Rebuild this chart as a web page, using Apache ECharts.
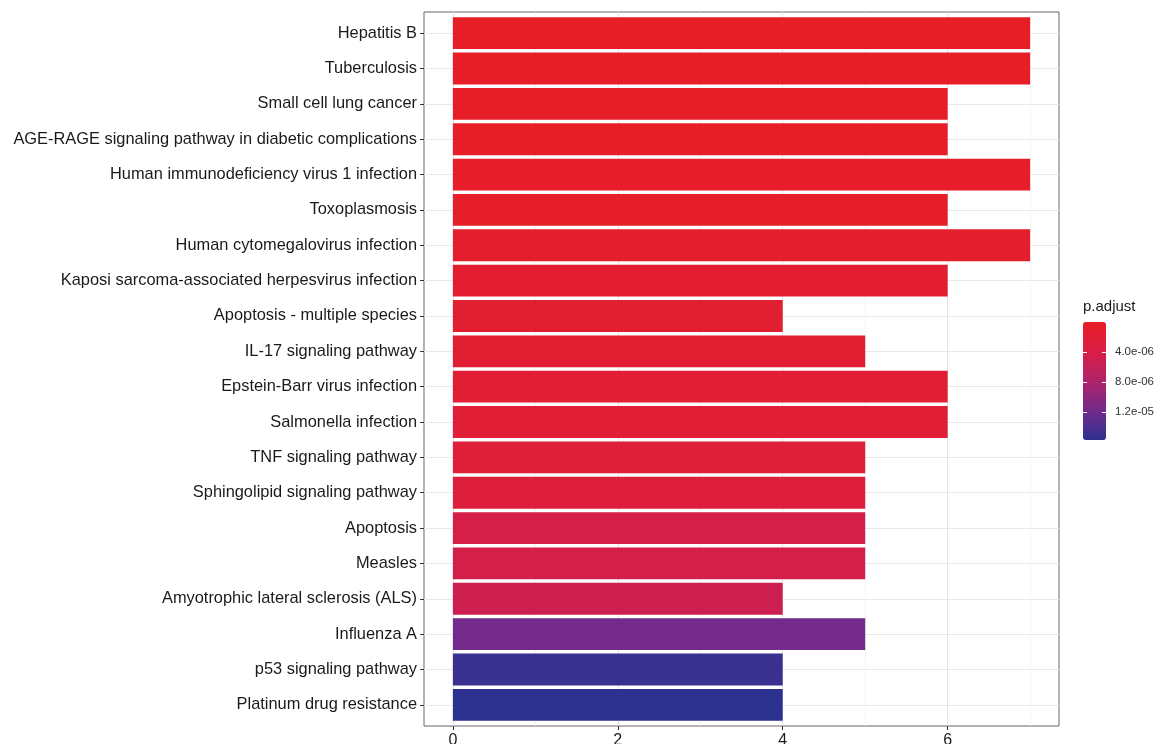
<!DOCTYPE html>
<html>
<head>
<meta charset="utf-8">
<script src="https://cdn.jsdelivr.net/npm/echarts@6/dist/echarts.min.js"></script>
<style>
  html, body { margin: 0; padding: 0; background: #ffffff; }
  #chart { width: 1157px; height: 744px; }
</style>
</head>
<body>
<div id="chart"></div>
<script>
// KEGG enrichment terms, listed top to bottom
const categories = [
  'Hepatitis B',
  'Tuberculosis',
  'Small cell lung cancer',
  'AGE-RAGE signaling pathway in diabetic complications',
  'Human immunodeficiency virus 1 infection',
  'Toxoplasmosis',
  'Human cytomegalovirus infection',
  'Kaposi sarcoma-associated herpesvirus infection',
  'Apoptosis - multiple species',
  'IL-17 signaling pathway',
  'Epstein-Barr virus infection',
  'Salmonella infection',
  'TNF signaling pathway',
  'Sphingolipid signaling pathway',
  'Apoptosis',
  'Measles',
  'Amyotrophic lateral sclerosis (ALS)',
  'Influenza A',
  'p53 signaling pathway',
  'Platinum drug resistance'
];

// Gene counts per term
const counts = [7, 7, 6, 6, 7, 6, 7, 6, 4, 5, 6, 6, 5, 5, 5, 5, 4, 5, 4, 4];

// Adjusted p-values per term
const pAdjust = [
  1.0e-8, 1.5e-7, 2.6e-7, 3.1e-7, 3.9e-7, 5.2e-7, 9.0e-7, 1.5e-6, 1.6e-6, 1.7e-6,
  1.8e-6, 2.0e-6, 2.6e-6, 3.0e-6, 4.4e-6, 4.6e-6, 5.1e-6, 1.18e-5, 1.5e-5, 1.57e-5
];

const xTickValues = [0, 2, 4, 6];
const xMinorValues = [1, 3, 5, 7];
const legendTicks = [4e-6, 8e-6, 1.2e-5];

const rampColors = ['#e81e26', '#da1e44', '#ae236a', '#742a8b', '#2c3190'];

const pMin = Math.min.apply(null, pAdjust);
const pMax = Math.max.apply(null, pAdjust);

// ggplot-like expansion of the axes
const xMin = -0.35, xMax = 7.35;
const yRowValues = categories.map((_, i) => i + 1);

const fontFamily = 'Liberation Sans';
const textColor = '#1a1a1a';

const barData = categories.map((c, i) => [counts[i], c, pAdjust[i]]);

function sciLabel(v) {
  return v.toExponential(1).replace(/e([+-])(\d)$/, 'e$10$2');
}

const chart = echarts.init(document.getElementById('chart'), null, { renderer: 'canvas' });

chart.setOption({
  backgroundColor: '#ffffff',
  animation: false,
  grid: [
    // panel frame and grid lines
    { left: 424, right: 98, top: 12, bottom: 18, show: true, borderColor: '#666666', borderWidth: 1, backgroundColor: 'transparent', containLabel: false, outerBoundsMode: 'none' },
    // bars
    { left: 424, right: 98, top: 15.5, bottom: 21.5, containLabel: false, outerBoundsMode: 'none' },
    // colour bar ticks
    { left: 1083, top: 322, width: 23, height: 118, containLabel: false, outerBoundsMode: 'none' }
  ],
  xAxis: [
    {
      gridIndex: 0, type: 'value', min: xMin, max: xMax, position: 'bottom',
      axisLine: { show: false, onZero: false },
      axisTick: { show: true, customValues: xTickValues, length: 4, lineStyle: { color: '#333333', width: 1 } },
      axisLabel: { show: true, customValues: xTickValues, margin: 7, fontSize: 16, color: textColor, fontFamily: fontFamily },
      splitLine: { show: true, lineStyle: { color: '#e4e4e4', width: 1 } }
    },
    {
      gridIndex: 0, type: 'value', min: xMin, max: xMax, position: 'top',
      axisLine: { show: false, onZero: false },
      axisTick: { show: false, customValues: xMinorValues },
      axisLabel: { show: false },
      splitLine: { show: true, lineStyle: { color: '#efefef', width: 0.7 } }
    },
    {
      gridIndex: 1, type: 'value', min: xMin, max: xMax, show: false,
      axisLine: { onZero: false }
    },
    {
      gridIndex: 2, type: 'value', min: 0, max: 1, show: false,
      axisLine: { onZero: false }
    }
  ],
  yAxis: [
    {
      gridIndex: 0, type: 'value', min: 0.4, max: 20.6, inverse: true,
      axisLine: { show: false, onZero: false },
      axisTick: { show: false, customValues: yRowValues },
      axisLabel: { show: false },
      splitLine: { show: true, lineStyle: { color: '#e8e8e8', width: 1 } }
    },
    {
      gridIndex: 1, type: 'category', data: categories, inverse: true, position: 'left',
      axisLine: { show: false, onZero: false },
      axisTick: { show: true, alignWithLabel: true, length: 4, lineStyle: { color: '#333333', width: 1 } },
      axisLabel: { margin: 7, fontSize: 16.4, color: textColor, fontFamily: fontFamily },
      splitLine: { show: false }
    },
    {
      gridIndex: 2, type: 'value', min: pMin, max: pMax, inverse: true, position: 'right', z: 10,
      axisLine: { show: false, onZero: false },
      axisTick: { show: true, inside: true, length: 4, customValues: legendTicks, lineStyle: { color: '#ffffff', width: 1 } },
      axisLabel: { show: true, customValues: legendTicks, margin: 9, fontSize: 11.5, color: '#333333', fontFamily: fontFamily, formatter: sciLabel },
      splitLine: { show: false }
    },
    {
      gridIndex: 2, type: 'value', min: pMin, max: pMax, inverse: true, position: 'left', z: 10,
      axisLine: { show: false, onZero: false },
      axisTick: { show: true, inside: true, length: 4, customValues: legendTicks, lineStyle: { color: '#ffffff', width: 1 } },
      axisLabel: { show: false },
      splitLine: { show: false }
    }
  ],
  visualMap: {
    type: 'continuous',
    seriesIndex: 0,
    dimension: 2,
    min: pMin,
    max: pMax,
    inverse: true,
    calculable: false,
    hoverLink: false,
    orient: 'vertical',
    left: 1083,
    top: 322,
    padding: 0,
    itemWidth: 23,
    itemHeight: 118,
    inRange: { color: rampColors },
    textStyle: { color: '#333333' }
  },
  graphic: [
    {
      type: 'text',
      left: 1083,
      top: 299,
      style: { text: 'p.adjust', fontSize: 15, fill: textColor, fontFamily: fontFamily }
    }
  ],
  series: [
    {
      type: 'bar',
      xAxisIndex: 2,
      yAxisIndex: 1,
      data: barData,
      encode: { x: 0, y: 1 },
      barWidth: '90%',
      itemStyle: { borderWidth: 0 },
      z: 5
    }
  ]
});
</script>
</body>
</html>
